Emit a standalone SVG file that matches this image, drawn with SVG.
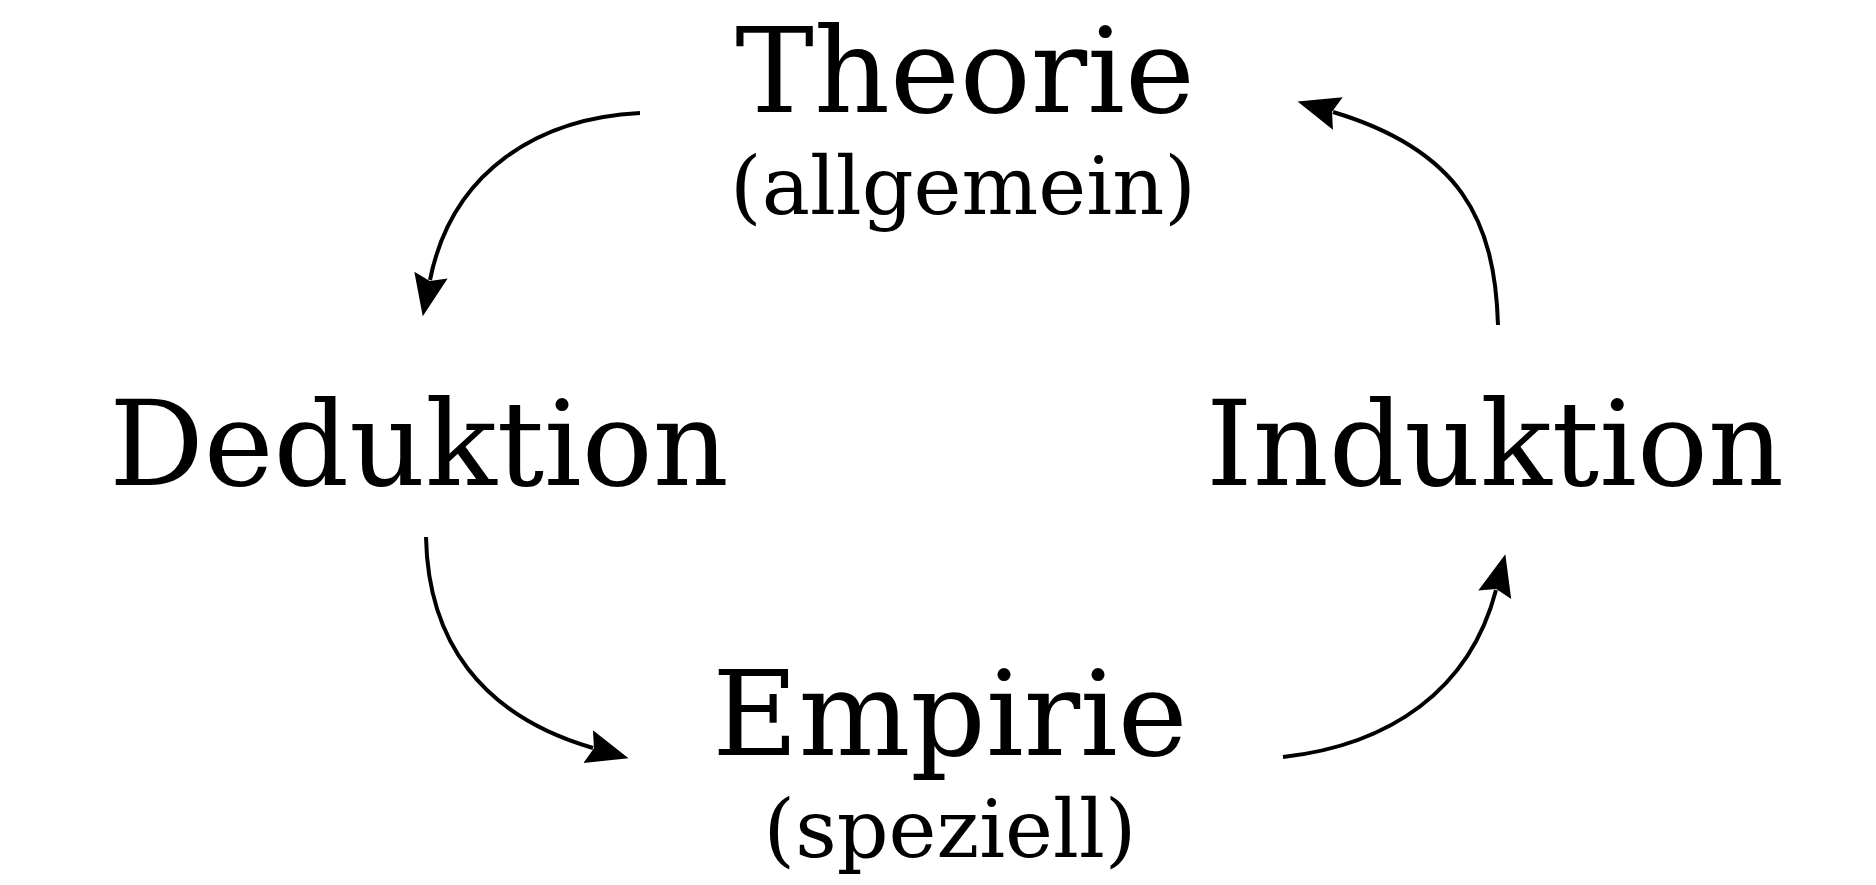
<svg xmlns="http://www.w3.org/2000/svg" width="1876" height="885" viewBox="0 0 1876 885">
<style>
.main{font-family:"DejaVu Serif",serif;font-size:118px;fill:#000;text-anchor:middle}
.sub{font-family:"DejaVu Serif",serif;font-size:81px;fill:#000;text-anchor:middle}
.arrow{fill:none;stroke:#000;stroke-width:4;marker-end:url(#head)}
</style>
<defs>
<marker id="head" markerUnits="userSpaceOnUse" markerWidth="50" markerHeight="40" viewBox="0 -20 50 40" refX="5" refY="0" orient="auto">
<path d="M0,-17 L42,0 L0,17 L6,0 z" fill="#000"/>
</marker>
</defs>
<rect width="1876" height="885" fill="#fff"/>
<g id="connectors">
<path class="arrow" d="M640,113 C540,118 452,170 430,280"/>
<path class="arrow" d="M426,537 C428,640 480,715 593,748"/>
<path class="arrow" d="M1283,757 C1390,745 1470,690 1496,590"/>
<path class="arrow" d="M1498,325 C1495,220 1460,150 1333,112"/>
</g>
<g id="theorie">
<text class="main" x="965" y="112">Theorie</text>
<text class="sub" x="963" y="214">(allgemein)</text>
</g>
<g id="deduktion">
<text class="main" x="419" y="485">Deduktion</text>
</g>
<g id="induktion">
<text class="main" x="1495" y="485">Induktion</text>
</g>
<g id="empirie">
<text class="main" x="950" y="755">Empirie</text>
<text class="sub" x="950" y="857">(speziell)</text>
</g>
</svg>
